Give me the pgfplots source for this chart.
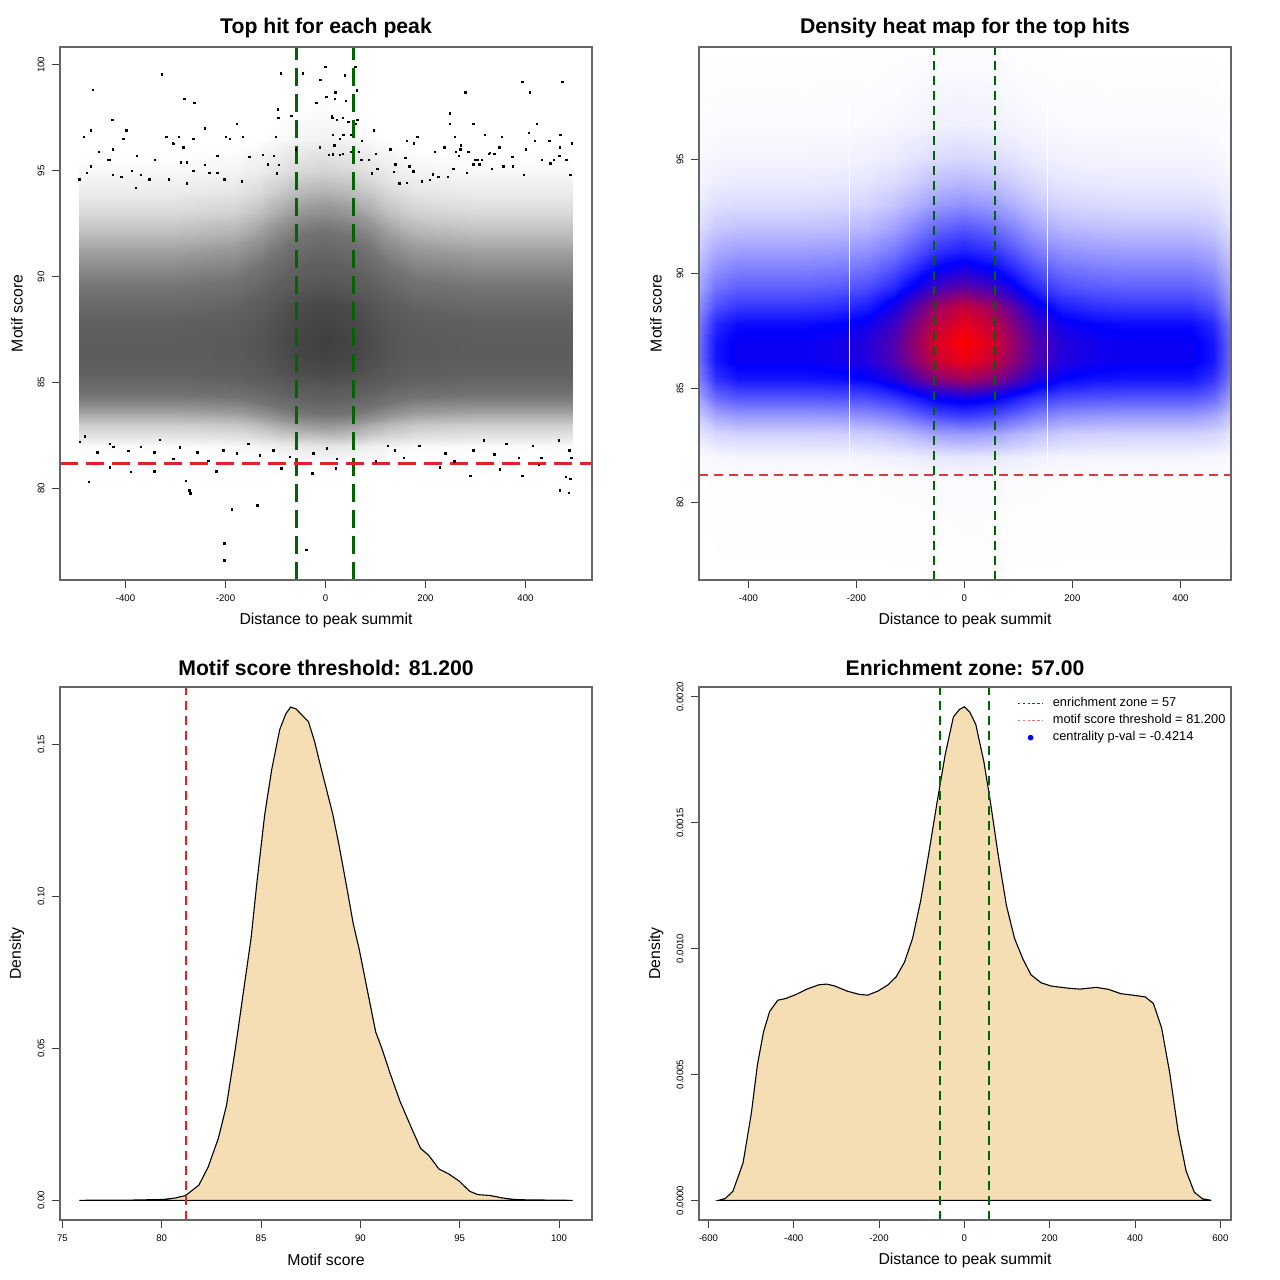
\documentclass[border=0pt]{standalone}
\usepackage{fontspec}
\setmainfont{Liberation Sans}
\usepackage{pgfplots}
\usepackage{pgfplotstable}
\pgfplotsset{compat=1.18}
\definecolor{wheat}{RGB}{245,222,179}
\definecolor{dkgreen}{RGB}{0,100,0}
\definecolor{rred}{RGB}{225,35,40}
\definecolor{rred2}{RGB}{212,60,62}
\definecolor{lred}{RGB}{235,110,110}
\pgfplotsset{
 rbase/.style={
  scale only axis, width=266bp, height=266.5bp,
  axis line style={black!60, line width=0.6bp},
  tick align=outside, tick pos=left, major tick length=4bp,
  every tick/.style={black!75, line width=0.5bp},
  /pgf/number format/assume math mode=true,
  ticklabel style={font=\fontsize{4.8bp}{5.5bp}\selectfont},
  yticklabel style={xshift=-5.5bp, rotate=90, anchor=center},
  xticklabel style={anchor=center, yshift=-5bp},
  every axis title/.style={at={(axis description cs:0.5,1.036)}, anchor=center, font=\bfseries\fontsize{10.6bp}{12bp}\selectfont},
  label style={font=\fontsize{7.9bp}{9bp}\selectfont},
  xlabel style={at={(axis description cs:0.5,-0.075)}, anchor=center},
  ylabel style={at={(axis description cs:-0.081,0.5)}, anchor=center},
  scaled ticks=false, axis on top,
 }
}
\pgfplotstableread{
x y v
-492 76.62 0
-460 76.62 0
-420 76.62 0
-360 76.62 0
-300 76.62 0
-240 76.62 0
-180 76.62 0
-130 76.62 0
-90 76.62 0
-50 76.62 0
0 76.62 0
50 76.62 0
90 76.62 0
130 76.62 0
180 76.62 0
240 76.62 0
300 76.62 0
360 76.62 0
420 76.62 0
460 76.62 0
494 76.62 0
-492 81 .002
-460 81 .004
-420 81 .004
-360 81 .004
-300 81 .004
-240 81 .004
-180 81 .005
-130 81 .006
-90 81 .007
-50 81 .009
0 81 .01
50 81 .009
90 81 .007
130 81 .006
180 81 .005
240 81 .004
300 81 .004
360 81 .004
420 81 .004
460 81 .004
494 81 .002
-492 82 .011
-460 82 .018
-420 82 .02
-360 82 .02
-300 82 .02
-240 82 .021
-180 82 .023
-130 82 .029
-90 82 .037
-50 82 .046
0 82 .05
50 82 .046
90 82 .037
130 82 .029
180 82 .023
240 82 .021
300 82 .02
360 82 .02
420 82 .02
460 82 .018
494 82 .011
-492 83 .05
-460 83 .079
-420 83 .09
-360 83 .09
-300 83 .09
-240 83 .093
-180 83 .101
-130 83 .123
-90 83 .154
-50 83 .184
0 83 .2
50 83 .184
90 83 .154
130 83 .123
180 83 .101
240 83 .093
300 83 .09
360 83 .09
420 83 .09
460 83 .079
494 83 .05
-492 83.8 .11
-460 83.8 .176
-420 83.8 .2
-360 83.8 .2
-300 83.8 .2
-240 83.8 .205
-180 83.8 .218
-130 83.8 .254
-90 83.8 .304
-50 83.8 .353
0 83.8 .38
50 83.8 .353
90 83.8 .304
130 83.8 .254
180 83.8 .218
240 83.8 .205
300 83.8 .2
360 83.8 .2
420 83.8 .2
460 83.8 .176
494 83.8 .11
-492 84.6 .187
-460 84.6 .299
-420 84.6 .34
-360 84.6 .34
-300 84.6 .34
-240 84.6 .346
-180 84.6 .361
-130 84.6 .403
-90 84.6 .462
-50 84.6 .519
0 84.6 .55
50 84.6 .519
90 84.6 .462
130 84.6 .403
180 84.6 .361
240 84.6 .346
300 84.6 .34
360 84.6 .34
420 84.6 .34
460 84.6 .299
494 84.6 .187
-492 85.4 .253
-460 85.4 .405
-420 85.4 .46
-360 85.4 .46
-300 85.4 .46
-240 85.4 .471
-180 85.4 .496
-130 85.4 .568
-90 85.4 .669
-50 85.4 .766
0 85.4 .82
50 85.4 .766
90 85.4 .669
130 85.4 .568
180 85.4 .496
240 85.4 .471
300 85.4 .46
360 85.4 .46
420 85.4 .46
460 85.4 .405
494 85.4 .253
-492 86.2 .286
-460 86.2 .458
-420 86.2 .52
-360 86.2 .52
-300 86.2 .52
-240 86.2 .533
-180 86.2 .564
-130 86.2 .652
-90 86.2 .775
-50 86.2 .894
0 86.2 .96
50 86.2 .894
90 86.2 .775
130 86.2 .652
180 86.2 .564
240 86.2 .533
300 86.2 .52
360 86.2 .52
420 86.2 .52
460 86.2 .458
494 86.2 .286
-492 87 .286
-460 87 .458
-420 87 .52
-360 87 .52
-300 87 .52
-240 87 .534
-180 87 .568
-130 87 .664
-90 87 .798
-50 87 .928
0 87 1
50 87 .928
90 87 .798
130 87 .664
180 87 .568
240 87 .534
300 87 .52
360 87 .52
420 87 .52
460 87 .458
494 87 .286
-492 87.8 .264
-460 87.8 .422
-420 87.8 .48
-360 87.8 .48
-300 87.8 .48
-240 87.8 .494
-180 87.8 .527
-130 87.8 .621
-90 87.8 .753
-50 87.8 .88
0 87.8 .95
50 87.8 .88
90 87.8 .753
130 87.8 .621
180 87.8 .527
240 87.8 .494
300 87.8 .48
360 87.8 .48
420 87.8 .48
460 87.8 .422
494 87.8 .264
-492 88.6 .215
-460 88.6 .343
-420 88.6 .39
-360 88.6 .39
-300 88.6 .39
-240 88.6 .405
-180 88.6 .439
-130 88.6 .537
-90 88.6 .674
-50 88.6 .807
0 88.6 .88
50 88.6 .807
90 88.6 .674
130 88.6 .537
180 88.6 .439
240 88.6 .405
300 88.6 .39
360 88.6 .39
420 88.6 .39
460 88.6 .343
494 88.6 .215
-492 89.4 .171
-460 89.4 .273
-420 89.4 .31
-360 89.4 .31
-300 89.4 .31
-240 89.4 .321
-180 89.4 .347
-130 89.4 .421
-90 89.4 .525
-50 89.4 .625
0 89.4 .68
50 89.4 .625
90 89.4 .525
130 89.4 .421
180 89.4 .347
240 89.4 .321
300 89.4 .31
360 89.4 .31
420 89.4 .31
460 89.4 .273
494 89.4 .171
-492 90.2 .138
-460 90.2 .22
-420 90.2 .25
-360 90.2 .25
-300 90.2 .25
-240 90.2 .259
-180 90.2 .28
-130 90.2 .34
-90 90.2 .424
-50 90.2 .505
0 90.2 .55
50 90.2 .505
90 90.2 .424
130 90.2 .34
180 90.2 .28
240 90.2 .259
300 90.2 .25
360 90.2 .25
420 90.2 .25
460 90.2 .22
494 90.2 .138
-492 91 .105
-460 91 .167
-420 91 .19
-360 91 .19
-300 91 .19
-240 91 .198
-180 91 .215
-130 91 .265
-90 91 .335
-50 91 .403
0 91 .44
50 91 .403
90 91 .335
130 91 .265
180 91 .215
240 91 .198
300 91 .19
360 91 .19
420 91 .19
460 91 .167
494 91 .105
-492 92 .066
-460 92 .106
-420 92 .12
-360 92 .12
-300 92 .12
-240 92 .126
-180 92 .141
-130 92 .183
-90 92 .242
-50 92 .299
0 92 .33
50 92 .299
90 92 .242
130 92 .183
180 92 .141
240 92 .126
300 92 .12
360 92 .12
420 92 .12
460 92 .106
494 92 .066
-492 93 .039
-460 93 .062
-420 93 .07
-360 93 .07
-300 93 .07
-240 93 .075
-180 93 .085
-130 93 .115
-90 93 .157
-50 93 .198
0 93 .22
50 93 .198
90 93 .157
130 93 .115
180 93 .085
240 93 .075
300 93 .07
360 93 .07
420 93 .07
460 93 .062
494 93 .039
-492 94 .022
-460 94 .035
-420 94 .04
-360 94 .04
-300 94 .04
-240 94 .043
-180 94 .05
-130 94 .07
-90 94 .098
-50 94 .125
0 94 .14
50 94 .125
90 94 .098
130 94 .07
180 94 .05
240 94 .043
300 94 .04
360 94 .04
420 94 .04
460 94 .035
494 94 .022
-492 95 .012
-460 95 .019
-420 95 .022
-360 95 .022
-300 95 .022
-240 95 .024
-180 95 .028
-130 95 .039
-90 95 .056
-50 95 .071
0 95 .08
50 95 .071
90 95 .056
130 95 .039
180 95 .028
240 95 .024
300 95 .022
360 95 .022
420 95 .022
460 95 .019
494 95 .012
-492 96.5 .005
-460 96.5 .008
-420 96.5 .009
-360 96.5 .009
-300 96.5 .009
-240 96.5 .01
-180 96.5 .011
-130 96.5 .015
-90 96.5 .021
-50 96.5 .027
0 96.5 .03
50 96.5 .027
90 96.5 .021
130 96.5 .015
180 96.5 .011
240 96.5 .01
300 96.5 .009
360 96.5 .009
420 96.5 .009
460 96.5 .008
494 96.5 .005
-492 99.9 0
-460 99.9 0
-420 99.9 0
-360 99.9 0
-300 99.9 0
-240 99.9 0
-180 99.9 0
-130 99.9 .001
-90 99.9 .002
-50 99.9 .003
0 99.9 .003
50 99.9 .003
90 99.9 .002
130 99.9 .001
180 99.9 0
240 99.9 0
300 99.9 0
360 99.9 0
420 99.9 0
460 99.9 0
494 99.9 0
}\heat
\pgfplotstableread{
x y v
-493 76.62 0
-300 76.62 0
-180 76.62 0
-130 76.62 0
-90 76.62 0
-50 76.62 0
0 76.62 0
50 76.62 0
90 76.62 0
130 76.62 0
180 76.62 0
300 76.62 0
495 76.62 0
-493 81 .004
-300 81 .004
-180 81 .005
-130 81 .006
-90 81 .007
-50 81 .009
0 81 .01
50 81 .009
90 81 .007
130 81 .006
180 81 .005
300 81 .004
495 81 .004
-493 82 .02
-300 82 .02
-180 82 .023
-130 82 .029
-90 82 .037
-50 82 .046
0 82 .05
50 82 .046
90 82 .037
130 82 .029
180 82 .023
300 82 .02
495 82 .02
-493 83 .09
-300 83 .09
-180 83 .101
-130 83 .123
-90 83 .154
-50 83 .184
0 83 .2
50 83 .184
90 83 .154
130 83 .123
180 83 .101
300 83 .09
495 83 .09
-493 83.8 .2
-300 83.8 .2
-180 83.8 .218
-130 83.8 .254
-90 83.8 .304
-50 83.8 .353
0 83.8 .38
50 83.8 .353
90 83.8 .304
130 83.8 .254
180 83.8 .218
300 83.8 .2
495 83.8 .2
-493 84.6 .34
-300 84.6 .34
-180 84.6 .361
-130 84.6 .403
-90 84.6 .462
-50 84.6 .519
0 84.6 .55
50 84.6 .519
90 84.6 .462
130 84.6 .403
180 84.6 .361
300 84.6 .34
495 84.6 .34
-493 85.4 .46
-300 85.4 .46
-180 85.4 .496
-130 85.4 .568
-90 85.4 .669
-50 85.4 .766
0 85.4 .82
50 85.4 .766
90 85.4 .669
130 85.4 .568
180 85.4 .496
300 85.4 .46
495 85.4 .46
-493 86.2 .52
-300 86.2 .52
-180 86.2 .564
-130 86.2 .652
-90 86.2 .775
-50 86.2 .894
0 86.2 .96
50 86.2 .894
90 86.2 .775
130 86.2 .652
180 86.2 .564
300 86.2 .52
495 86.2 .52
-493 87 .52
-300 87 .52
-180 87 .568
-130 87 .664
-90 87 .798
-50 87 .928
0 87 1
50 87 .928
90 87 .798
130 87 .664
180 87 .568
300 87 .52
495 87 .52
-493 87.8 .48
-300 87.8 .48
-180 87.8 .527
-130 87.8 .621
-90 87.8 .753
-50 87.8 .88
0 87.8 .95
50 87.8 .88
90 87.8 .753
130 87.8 .621
180 87.8 .527
300 87.8 .48
495 87.8 .48
-493 88.6 .39
-300 88.6 .39
-180 88.6 .439
-130 88.6 .537
-90 88.6 .674
-50 88.6 .807
0 88.6 .88
50 88.6 .807
90 88.6 .674
130 88.6 .537
180 88.6 .439
300 88.6 .39
495 88.6 .39
-493 89.4 .31
-300 89.4 .31
-180 89.4 .347
-130 89.4 .421
-90 89.4 .525
-50 89.4 .625
0 89.4 .68
50 89.4 .625
90 89.4 .525
130 89.4 .421
180 89.4 .347
300 89.4 .31
495 89.4 .31
-493 90.2 .25
-300 90.2 .25
-180 90.2 .28
-130 90.2 .34
-90 90.2 .424
-50 90.2 .505
0 90.2 .55
50 90.2 .505
90 90.2 .424
130 90.2 .34
180 90.2 .28
300 90.2 .25
495 90.2 .25
-493 91 .19
-300 91 .19
-180 91 .215
-130 91 .265
-90 91 .335
-50 91 .403
0 91 .44
50 91 .403
90 91 .335
130 91 .265
180 91 .215
300 91 .19
495 91 .19
-493 92 .12
-300 92 .12
-180 92 .141
-130 92 .183
-90 92 .242
-50 92 .299
0 92 .33
50 92 .299
90 92 .242
130 92 .183
180 92 .141
300 92 .12
495 92 .12
-493 93 .07
-300 93 .07
-180 93 .085
-130 93 .115
-90 93 .157
-50 93 .198
0 93 .22
50 93 .198
90 93 .157
130 93 .115
180 93 .085
300 93 .07
495 93 .07
-493 94 .04
-300 94 .04
-180 94 .05
-130 94 .07
-90 94 .098
-50 94 .125
0 94 .14
50 94 .125
90 94 .098
130 94 .07
180 94 .05
300 94 .04
495 94 .04
-493 95 .022
-300 95 .022
-180 95 .028
-130 95 .039
-90 95 .056
-50 95 .071
0 95 .08
50 95 .071
90 95 .056
130 95 .039
180 95 .028
300 95 .022
495 95 .022
-493 96.5 .009
-300 96.5 .009
-180 96.5 .011
-130 96.5 .015
-90 96.5 .021
-50 96.5 .027
0 96.5 .03
50 96.5 .027
90 96.5 .021
130 96.5 .015
180 96.5 .011
300 96.5 .009
495 96.5 .009
-493 99.9 0
-300 99.9 0
-180 99.9 0
-130 99.9 .001
-90 99.9 .002
-50 99.9 .003
0 99.9 .003
50 99.9 .003
90 99.9 .002
130 99.9 .001
180 99.9 0
300 99.9 0
495 99.9 0
}\scat
\begin{document}
\begin{tikzpicture}
\useasboundingbox (0,0) rectangle (640bp,640bp);
% ---------------- Panel 1: scatter ----------------
\begin{axis}[rbase, at={(30bp,350bp)}, anchor=south west,
  xmin=-531, xmax=533, ymin=75.68, ymax=100.85,
  xtick={-400,-200,0,200,400}, ytick={80,85,90,95,100},
  colormap={scatgray}{gray(0cm)=(1); gray(1.5cm)=(1); gray(3cm)=(0.95); gray(5cm)=(0.9); gray(8cm)=(0.83); gray(12cm)=(0.74); gray(19cm)=(0.6); gray(25cm)=(0.52); gray(31cm)=(0.45); gray(46cm)=(0.38); gray(100cm)=(0.25)},
  point meta min=0, point meta max=1,
  title={Top hit for each peak}, xlabel={Distance to peak summit}, ylabel={Motif score}]
\addplot[surf, shader=interp, mesh/cols=13, mesh/ordering=x varies, point meta=explicit] table[x=x, y=y, meta=v] {\scat};
\addplot[only marks, mark=square*, mark size=0.36bp, black, mark options={line width=0pt}] coordinates {
(-327,99.56) (-465,98.82) (-89,99.6) (-45,99.6) (0,99.9) (-10,99.3) (39,99.5) (60,99.9) (-282,98.4) (-262,98.2) (20,98.7) (280,98.7) (394,99.2) (409,98.7) (474,99.2) (-426,97.4) (-469,96.9) (-483,96.6) (-398,96.9) (-404,96.5) (-318,96.6) (-293,96.6) (-305,96.3) (-264,96.5) (-241,97.0) (-177,97.2) (-199,96.6) (-191,96.5) (-165,96.6) (-99,96.6) (-95,97.9) (-94,97.5) (-68,97.6) (-18,98.2) (2,98.5) (14,97.5) (41,98.3) (46,97.3) (51,96.7) (61,97.2) (97,96.9) (163,96.4) (184,96.6) (249,97.7) (249,97.2) (296,97.2) (319,96.7) (353,96.6) (407,96.8) (419,96.4) (470,96.7) (493,96.3) (423,97.2) (19,98.4) (13,97.6) (23,97.4) (35,97.5) (64,97.4) (63,98.8) (259,96.6) (238,96.1) (271,96.2) (130,96.0) (177,96.3) (401,96.0) (469,96.1) (36,96.7) (29,96.5) (15,96.7) (18,96.2) (73,96.4)
(-453,95.9) (-425,96.0) (-377,95.7) (-341,95.5) (-434,95.5) (-304,96.26) (-284,96.1) (-289,95.4) (-277,95.4) (-216,95.7) (-152,95.65) (-125,95.76) (-115,95.3) (-103,95.7) (-93,95.27) (-59,96.0) (-11,96.1) (7,95.75) (29,95.75) (51,95.9) (72,95.5) (160,95.6) (219,95.9) (270,96.0) (300,95.5) (329,95.85) (374,95.65) (448,96.4) (457,95.5) (482,95.5) (261,95.9) (267,95.7) (286,95.9) (327,95.8) (338,95.8) (348,96.1) (468,95.7) (433,95.5) (450,95.35) (305,95.5) (313,95.5) (296,95.3) (308,95.3) (375,95.2) (356,95.2) (333,95.1) (256,95.1) (168,95.2) (140,95.3) (104,95.1) (101,95.8) (87,95.5) (67,95.9) (35,95.8) (15,95.77) (-469,95.2) (-431,95.5) (-387,95.0) (-264,95.0) (-241,95.27)
(-492,94.6) (-477,94.9) (-425,94.8) (-408,94.7) (-369,94.8) (-379,94.2) (-352,94.6) (-313,94.6) (-277,94.4) (-232,94.9) (-216,94.9) (-202,94.6) (-167,94.5) (-97,94.87) (490,94.8) (397,94.8) (283,94.9) (245,94.7) (215,94.83) (226,94.7) (209,94.56) (193,94.5) (176,94.98) (137,94.95) (163,94.43) (148,94.4) (93,94.87)
(-473,80.3) (-342,80.8) (-279,80.35) (-272,79.9) (-270,79.76) (-218,80.8) (-187,79.0) (-136,79.2) (-202,77.4) (-202,76.6) (-38,77.1) (-88,80.94) (-26,80.7) (21,80.94) (229,81.0) (290,80.6) (349,80.9) (394,80.6) (427,81.1) (481,80.55) (469,79.9) (487,79.8) (490,80.45) (-431,81.0) (-389,80.79)
(-491,82.2) (-481,82.45) (-456,81.7) (-431,82.1) (-424,81.97) (-394,81.76) (-369,81.97) (-342,81.7) (-331,82.28) (-304,81.4) (-291,81.93) (-256,81.7) (-234,81.3) (-204,81.8) (-177,81.65) (-154,82.1) (-131,81.56) (-104,81.8) (-71,81.5) (-24,81.65) (3,81.88) (23,81.4) (188,82.0) (240,81.66) (296,81.8) (338,81.6) (387,81.45) (432,81.45) (492,81.45) (488,81.8) (467,82.26) (415,82.0) (362,82.1) (317,82.26) (258,81.28) (139,81.8) (157,81.45) (101,81.28) (125,82.0)
};
\addplot[dkgreen, line width=1.5bp, dash pattern=on 9bp off 4bp] coordinates {(-57,75.68) (-57,100.85)};
\addplot[dkgreen, line width=1.5bp, dash pattern=on 9bp off 4bp] coordinates {(57,75.68) (57,100.85)};
\addplot[rred, line width=1.5bp, dash pattern=on 9bp off 4bp] coordinates {(-531,81.2) (533,81.2)};
\end{axis}
% ---------------- Panel 2: heat map ----------------
\begin{axis}[rbase, at={(349.5bp,350bp)}, anchor=south west,
  xmin=-491.5, xmax=493.7, ymin=76.62, ymax=99.9,
  xtick={-400,-200,0,200,400}, ytick={80,85,90,95},
  colormap={wbr}{rgb255(0cm)=(255,255,255); rgb255(1cm)=(0,0,255); rgb255(2cm)=(255,0,0)},
  point meta min=0, point meta max=1,
  title={Density heat map for the top hits}, xlabel={Distance to peak summit}, ylabel={Motif score}]
\addplot[surf, shader=interp, mesh/cols=21, mesh/ordering=x varies, point meta=explicit] table[x=x, y=y, meta=v] {\heat};
\addplot[white, line width=0.5bp] coordinates {(-212,81.6) (-212,97.5)};
\addplot[white, line width=0.5bp] coordinates {(154,81.6) (154,97.5)};
\addplot[dkgreen, line width=1bp, dash pattern=on 4.5bp off 3bp] coordinates {(-57,76.62) (-57,99.9)};
\addplot[dkgreen, line width=1bp, dash pattern=on 4.5bp off 3bp] coordinates {(57,76.62) (57,99.9)};
\addplot[rred2, line width=1bp, dash pattern=on 4.5bp off 3bp] coordinates {(-491.5,81.2) (493.7,81.2)};
\end{axis}
% ---------------- Panel 3: motif score density ----------------
\begin{axis}[rbase, at={(30bp,30bp)}, anchor=south west,
  xmin=74.88, xmax=101.66, ymin=-0.00645, ymax=0.1688,
  xtick={75,80,85,90,95,100}, ytick={0,0.05,0.1,0.15},
  yticklabel style={/pgf/number format/.cd, fixed, fixed zerofill, precision=2, /tikz/.cd},
  title={Motif score threshold: 81.200}, xlabel={Motif score}, ylabel={Density}]
\addplot[fill=wheat, draw=black, line width=0.55bp] coordinates {
(75.86,0) (77,0.0001) (78.5,0.0001) (80.08,0.0003) (80.7,0.0008) (81.2,0.0016) (81.87,0.005) (82.34,0.011) (82.85,0.0204) (83.26,0.0312) (83.68,0.0487) (84.09,0.0675) (84.5,0.0863) (84.8,0.105) (85.18,0.1266) (85.53,0.1414) (85.94,0.1548) (86.25,0.160) (86.49,0.1622) (86.76,0.1616) (87.07,0.1595) (87.38,0.1575) (87.69,0.1510) (87.99,0.1430) (88.3,0.1350) (88.61,0.1270) (88.92,0.1170) (89.33,0.1024) (89.64,0.0910) (89.95,0.0823) (90.36,0.0688) (90.77,0.0554) (91.08,0.0500) (91.49,0.0419) (92.0,0.0325) (92.62,0.0231) (93.03,0.0171) (93.44,0.0148) (93.96,0.0103) (94.47,0.0086) (94.98,0.0063) (95.5,0.003) (95.91,0.0019) (96.53,0.0016) (97.14,0.0008) (97.76,0.0003) (98.58,0.00013) (99.6,0.0001) (100.68,0)} -- cycle;
\addplot[rred, line width=1bp, dash pattern=on 4.5bp off 3bp] coordinates {(81.2,-0.00645) (81.2,0.1688)};
\end{axis}
% ---------------- Panel 4: distance density ----------------
\begin{axis}[rbase, at={(349.5bp,30bp)}, anchor=south west,
  xmin=-622, xmax=624.9, ymin=-0.000078, ymax=0.002039,
  xtick={-600,-400,-200,0,200,400,600}, ytick={0,0.0005,0.001,0.0015,0.002},
  yticklabel style={/pgf/number format/.cd, fixed, fixed zerofill, precision=4, /tikz/.cd},
  title={Enrichment zone: 57.00}, xlabel={Distance to peak summit}, ylabel={Density},
  legend style={draw=none, fill=none, at={(axis description cs:0.5975,0.985)}, anchor=north west,
    font=\fontsize{6.4bp}{7bp}\selectfont, inner sep=0pt, nodes={inner sep=1bp}, row sep=0.4bp,
    /tikz/every odd column/.append style={column sep=3.5bp}},
  legend cell align=left,
  legend image code/.code={\draw[#1] (0bp,0bp) -- (12.5bp,0bp);}]
\addplot[fill=wheat, draw=black, line width=0.55bp, forget plot] coordinates {
(-576,0) (-560,0.000008) (-542.6,0.0000357) (-518.7,0.000149) (-499.5,0.000344) (-485,0.000539) (-470.8,0.000669) (-456.5,0.00075) (-437.3,0.000795) (-418.2,0.000802) (-394.3,0.000818) (-370.4,0.000838) (-341.6,0.000856) (-322.5,0.000859) (-303.3,0.000851) (-274.6,0.000831) (-245.9,0.000818) (-226.8,0.000815) (-202.9,0.000831) (-179,0.000856) (-159.8,0.000888) (-140.7,0.000945) (-121.5,0.00104) (-102.4,0.00119) (-83.3,0.00138) (-64.1,0.00158) (-45,0.00177) (-25.8,0.00192) (-11.5,0.00195) (0,0.00196) (12.4,0.00194) (26.8,0.00189) (45.9,0.00174) (60.3,0.00159) (79.4,0.00137) (98.6,0.00117) (117.7,0.00104) (136.8,0.00096) (156,0.000896) (179.9,0.000864) (203.8,0.000851) (242.1,0.000843) (270.8,0.000839) (309,0.000846) (337.8,0.000838) (366.5,0.000821) (395.2,0.000815) (423.9,0.000808) (443,0.000782) (462.2,0.000685) (481.3,0.000506) (500.5,0.000279) (519.6,0.000117) (538.8,0.0000325) (557.9,0.0000065) (578.9,0)} -- cycle;
\addplot[dkgreen, line width=1bp, dash pattern=on 4.5bp off 3bp, forget plot] coordinates {(-57,-0.000078) (-57,0.002039)};
\addplot[dkgreen, line width=1bp, dash pattern=on 4.5bp off 3bp, forget plot] coordinates {(57,-0.000078) (57,0.002039)};
\addlegendimage{dkgreen, line width=0.8bp, dash pattern=on 1.2bp off 1.2bp}
\addlegendentry{enrichment zone = 57}
\addlegendimage{lred, line width=0.8bp, dash pattern=on 1.2bp off 1.2bp}
\addlegendentry{motif score threshold = 81.200}
\addlegendimage{legend image code/.code={\fill[blue] (6.25bp,0bp) circle (1.2bp);}}
\addlegendentry{centrality p-val = -0.4214}
\end{axis}
\end{tikzpicture}
\end{document}
